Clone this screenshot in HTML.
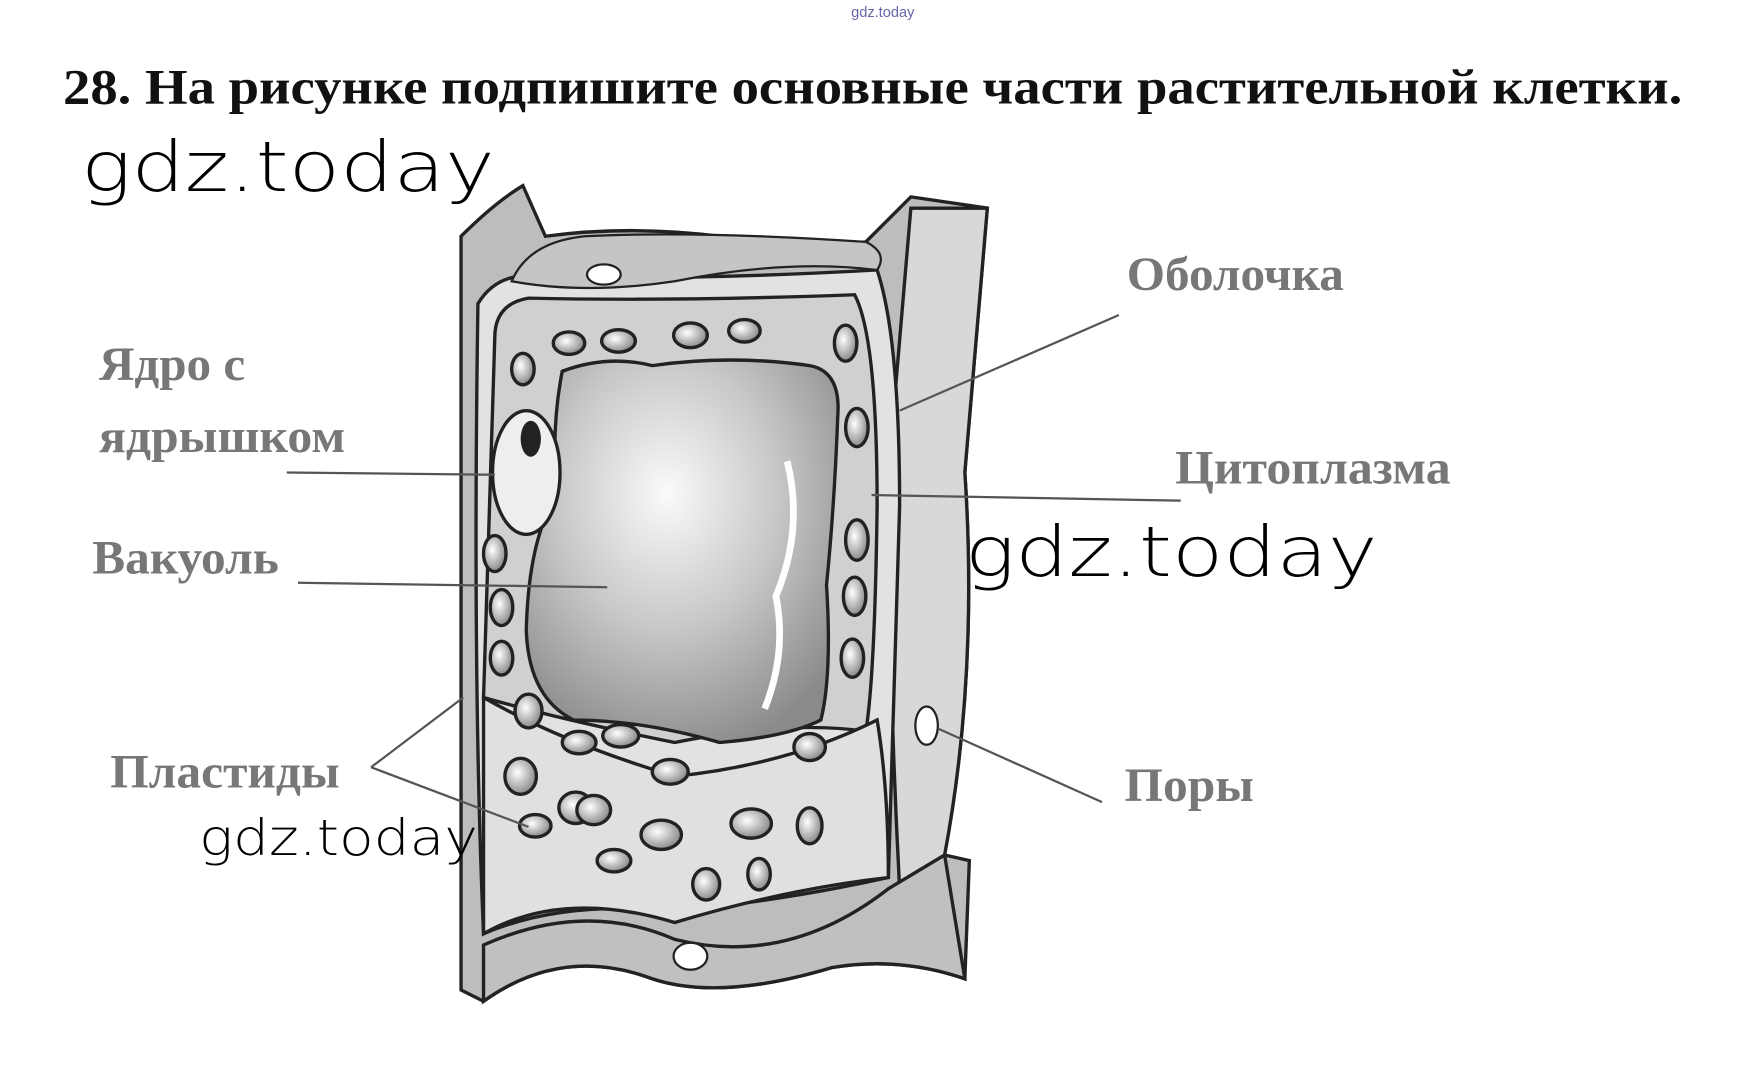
<!DOCTYPE html>
<html><head><meta charset="utf-8"><style>
html,body{margin:0;padding:0;background:#fff;width:1743px;height:1080px;overflow:hidden}
svg{display:block}
.lab{font-family:"Liberation Serif",serif;font-weight:bold;fill:#777;font-size:42px}
.wm{font-family:"DejaVu Sans","Liberation Sans",sans-serif;font-weight:200;fill:#000}
</style></head><body>
<svg width="1743" height="1080" viewBox="0 0 1550 960" preserveAspectRatio="none">
<defs>
<radialGradient id="vac" cx="0.45" cy="0.35" r="0.7">
<stop offset="0" stop-color="#fafafa"/><stop offset="0.5" stop-color="#c8c8c8"/><stop offset="1" stop-color="#8a8a8a"/></radialGradient>
<radialGradient id="pl" cx="0.4" cy="0.4" r="0.7"><stop offset="0" stop-color="#fff"/><stop offset="1" stop-color="#777"/></radialGradient>
</defs>
<text x="785" y="15" font-family="Liberation Sans,sans-serif" font-size="13" fill="#66a" text-anchor="middle">gdz.today</text>
<text x="56" y="92" font-family="Liberation Serif,serif" font-weight="bold" font-size="44" fill="#111" textLength="1440" lengthAdjust="spacingAndGlyphs">28. На рисунке подпишите основные части растительной клетки.</text>
<text class="wm" x="72" y="170" font-size="62" textLength="368" lengthAdjust="spacingAndGlyphs">gdz.today</text>

<path d="M410 210 Q440 180 465 165 L485 210 Q560 200 640 210 Q720 220 770 215 L810 175 L878 185 L858 420 Q870 600 840 760 L862 765 L858 870 Q800 850 740 860 Q640 890 580 870 Q500 840 430 890 L410 880 Z" fill="#bdbdbd" stroke="#222" stroke-width="3"/>
<path d="M810 185 L878 185 L858 420 Q870 600 840 760 L800 790 Q790 600 790 420 Z" fill="#d8d8d8" stroke="#222" stroke-width="3"/>
<path d="M425 270 Q440 245 470 245 Q600 250 780 240 Q800 300 800 450 Q795 600 790 780 Q700 800 600 810 Q500 800 430 830 Q420 600 425 270 Z" fill="#e2e2e2" stroke="#222" stroke-width="3"/>
<path d="M440 300 Q440 270 470 265 Q600 268 760 262 Q780 300 780 450 Q778 600 770 650 Q700 640 600 660 Q500 640 430 620 Q435 450 440 300 Z" fill="#d0d0d0" stroke="#222" stroke-width="3"/>
<path d="M455 250 Q470 215 520 210 Q620 205 770 215 Q790 225 780 240 Q700 230 600 250 Q520 262 455 250Z" fill="#c5c5c5" stroke="#222" stroke-width="2"/>
<ellipse cx="537" cy="244" rx="15" ry="9" fill="#fff" stroke="#222" stroke-width="2"/>
<path d="M500 330 Q540 315 580 325 Q650 315 720 325 Q748 330 745 370 Q742 450 735 520 Q740 600 730 640 Q700 655 640 660 Q570 640 510 640 Q470 620 468 560 Q470 480 495 440 Q490 380 500 330Z" fill="url(#vac)" stroke="#222" stroke-width="3"/>
<path d="M700 410 Q715 470 690 530 Q700 580 680 630" stroke="#fff" stroke-width="6" fill="none"/>
<ellipse cx="468" cy="420" rx="30" ry="55" fill="#eee" stroke="#222" stroke-width="3"/>
<ellipse cx="472" cy="390" rx="9" ry="16" fill="#222"/>
<path d="M430 620 Q500 660 600 690 Q700 680 780 640 Q790 700 790 780 Q700 790 600 820 Q500 790 430 830Z" fill="#e0e0e0" stroke="#222" stroke-width="3"/>
<path d="M430 840 Q520 800 600 835 Q700 860 790 790 L840 760 L858 870 Q800 850 740 860 Q640 890 580 870 Q500 840 430 890Z" fill="#c0c0c0" stroke="#222" stroke-width="3"/>
<ellipse cx="614" cy="850" rx="15" ry="12" fill="#fff" stroke="#222" stroke-width="2"/>
<ellipse cx="824" cy="645" rx="10" ry="17" fill="#fff" stroke="#222" stroke-width="2"/>
<g fill="url(#pl)" stroke="#222" stroke-width="3">
<ellipse cx="506" cy="305" rx="14" ry="10"/><ellipse cx="550" cy="303" rx="15" ry="10"/><ellipse cx="614" cy="298" rx="15" ry="11"/><ellipse cx="662" cy="294" rx="14" ry="10"/>
<ellipse cx="465" cy="328" rx="10" ry="14"/><ellipse cx="752" cy="305" rx="10" ry="16"/><ellipse cx="762" cy="380" rx="10" ry="17"/>
<ellipse cx="762" cy="480" rx="10" ry="18"/><ellipse cx="760" cy="530" rx="10" ry="17"/><ellipse cx="758" cy="585" rx="10" ry="17"/>
<ellipse cx="440" cy="492" rx="10" ry="16"/><ellipse cx="446" cy="540" rx="10" ry="16"/><ellipse cx="446" cy="585" rx="10" ry="15"/>
<ellipse cx="470" cy="632" rx="12" ry="15"/><ellipse cx="515" cy="660" rx="15" ry="10"/><ellipse cx="552" cy="654" rx="16" ry="10"/><ellipse cx="596" cy="686" rx="16" ry="11"/><ellipse cx="720" cy="664" rx="14" ry="12"/>
<ellipse cx="463" cy="690" rx="14" ry="16"/><ellipse cx="512" cy="718" rx="15" ry="14"/><ellipse cx="528" cy="720" rx="15" ry="13"/><ellipse cx="588" cy="742" rx="18" ry="13"/><ellipse cx="668" cy="732" rx="18" ry="13"/><ellipse cx="720" cy="734" rx="11" ry="16"/>
<ellipse cx="476" cy="734" rx="14" ry="10"/><ellipse cx="546" cy="765" rx="15" ry="10"/><ellipse cx="628" cy="786" rx="12" ry="14"/><ellipse cx="675" cy="777" rx="10" ry="14"/>
</g>
<g stroke="#555" stroke-width="2" fill="none">
<line x1="995" y1="280" x2="800" y2="365"/>
<line x1="1050" y1="445" x2="775" y2="440"/>
<line x1="255" y1="420" x2="440" y2="422"/>
<line x1="265" y1="518" x2="540" y2="522"/>
<line x1="330" y1="682" x2="412" y2="620"/>
<line x1="330" y1="682" x2="470" y2="735"/>
<line x1="980" y1="713" x2="835" y2="648"/>
</g>
<text class="lab" x="1002" y="258" textLength="193" lengthAdjust="spacingAndGlyphs">Оболочка</text>
<text class="lab" x="88" y="338" textLength="130" lengthAdjust="spacingAndGlyphs">Ядро с</text>
<text class="lab" x="88" y="402" textLength="219" lengthAdjust="spacingAndGlyphs">ядрышком</text>
<text class="lab" x="1045" y="430" textLength="245" lengthAdjust="spacingAndGlyphs">Цитоплазма</text>
<text class="lab" x="82" y="510" textLength="166" lengthAdjust="spacingAndGlyphs">Вакуоль</text>
<text class="lab" x="98" y="700" textLength="204" lengthAdjust="spacingAndGlyphs">Пластиды</text>
<text class="lab" x="1000" y="712" textLength="115" lengthAdjust="spacingAndGlyphs">Поры</text>
<text class="wm" x="858" y="512" font-size="62" textLength="367" lengthAdjust="spacingAndGlyphs">gdz.today</text>
<text class="wm" x="177" y="760" font-size="44" textLength="248" lengthAdjust="spacingAndGlyphs">gdz.today</text>
</svg>
</body></html>
